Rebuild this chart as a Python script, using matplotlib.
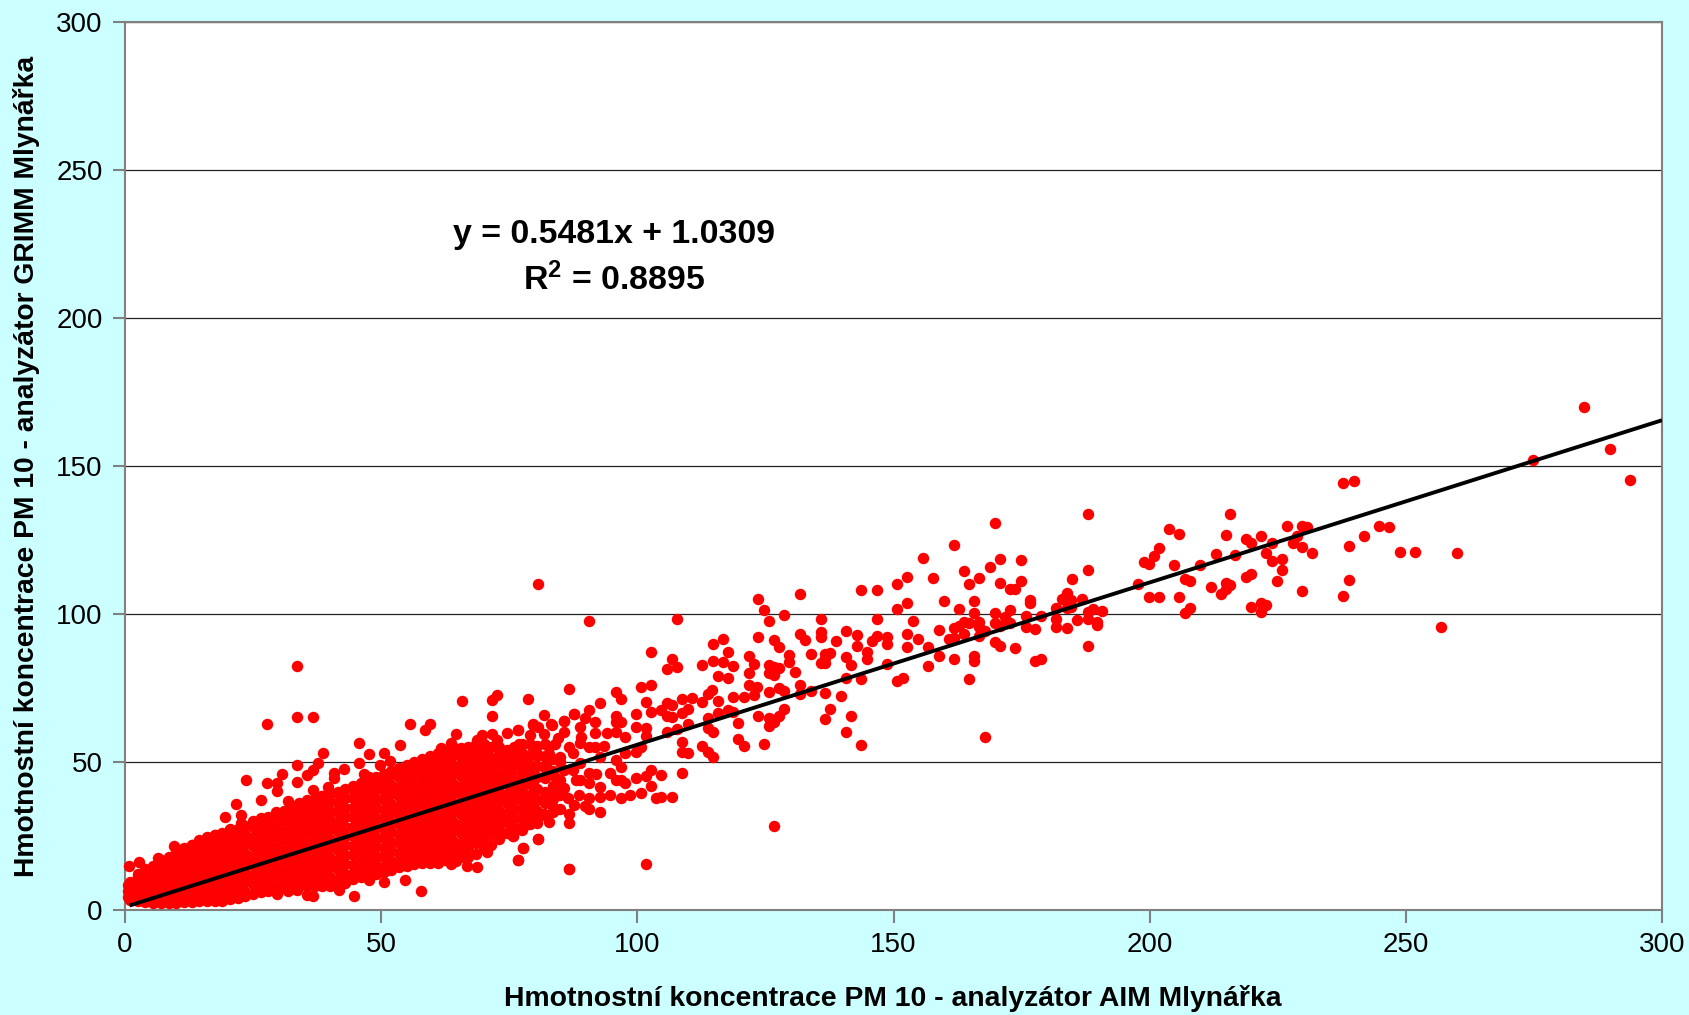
import matplotlib.pyplot as plt

plt.rcParams['font.family'] = ['Liberation Sans', 'DejaVu Sans']
plt.rcParams['mathtext.fontset'] = 'custom'
plt.rcParams['mathtext.bf'] = 'Liberation Sans:bold'
plt.rcParams['mathtext.rm'] = 'Liberation Sans'

x_label = 'Hmotnostní koncentrace PM 10 - analyzátor AIM Mlynářka'
y_label = 'Hmotnostní koncentrace PM 10 - analyzátor GRIMM Mlynářka'
ticks = [0, 50, 100, 150, 200, 250, 300]
fit_slope = 0.5481
fit_intercept = 1.0309
fit_x = [0.9, 300]

# right hand part of the cloud, read point by point
tail_points = [
    (284.8,169.9),(289.9,155.9),(293.8,145.4),(274.8,151.9),(237.8,144.1),(239.9,144.8),(187.9,133.7),(215.7,133.9),
    (169.8,130.7),(203.7,128.7),(205.8,126.9),(161.8,123.2),(155.7,118.8),(170.8,118.5),(174.8,118.1),(168.8,115.8),
    (187.9,115),(201.8,122.3),(200.9,119.6),(198.9,117.7),(199.8,116.8),(204.8,116.4),(209.8,116.4),(212.9,120.3),
    (216.7,119.9),(214.9,126.7),(218.9,125.4),(219.8,123.9),(221.8,126.3),(223.8,124),(222.8,120.6),(223.8,117.9),
    (225.8,118.5),(225.8,114.9),(226.8,129.6),(229.8,129.6),(230.8,129.3),(228.7,126.3),(227.9,123.9),(229.8,122.6),
    (231.7,120.7),(238.9,122.9),(241.8,126.3),(244.8,129.6),(246.8,129.4),(248.8,121.1),(251.8,120.8),(259.9,120.6),
    (256.8,95.7),(238.9,111.5),(237.8,106.2),(229.8,107.8),(224.9,111.2),(219.8,113.5),(218.9,112.6),(215.7,109.8),
    (214.9,110.4),(214.9,108.3),(213.9,106.9),(211.9,109.1),(206.8,111.8),(207.8,111.2),(197.7,110),(199.8,105.9),
    (201.8,105.6),(205.8,105.9),(207.8,102),(206.8,100.4),(219.8,102.4),(221.8,103.7),(222.8,102.9),(221.8,100.7),
    (184.8,111.7),(174.8,111.2),(170.8,110.4),(166.7,112.1),(163.7,114.6),(164.8,110),(157.8,112.1),(152.7,112.4),
    (172.7,108.4),(173.7,108.4),(159.8,104.5),(165.8,104.5),(162.8,101.6),(165.8,100.5),(152.7,103.6),(176.7,104.7),
    (176.7,103.6),(182.8,105.2),(183.8,107),(184.7,104.7),(186.8,105.2),(181.8,101.9),(183.8,101.9),(184.7,102.5),
    (187.9,100.8),(188.9,101.6),(190.7,101.1),(172.7,101.4),(169.8,100.5),(171.8,99.1),(175.9,99.3),(178.7,99.3),
    (153.8,97.8),(181.8,98.2),(187.9,98.2),(189.7,97.2),(189.7,96.3),(185.8,98),(181.8,95.7),(183.8,95.4),
    (175.9,95.7),(177.7,94.8),(172.7,96.9),(169.8,96.9),(170.8,96),(166.7,97.4),(166.7,95.7),(167.8,94.4),
    (163.7,97.4),(164.8,96.9),(162.8,96),(161.8,95.2),(163.7,93.3),(158.8,94.6),(152.7,93.3),(154.8,91.7),
    (160.8,91.7),(161.8,92),(166.7,92.6),(169.8,90.4),(170.8,89.3),(173.8,88.4),(187.9,89.3),(152.7,88.7),
    (156.8,88.7),(158.8,85.8),(161.8,84.7),(165.8,85.8),(165.8,84.2),(156.8,82.5),(177.7,84.2),(178.7,84.9),
    (164.8,78),(151.8,78.5),(167.8,58.6),(150.7,110),(150.7,101.8),(150.7,77.2),
]

# middle part, x from about 75 to 150
mid_points = [
    (80.7,110),(90.6,97.5),(107.8,98.3),(102.7,87.3),(86.7,74.6),(78.7,71.2),(106.7,84.9),(105.7,81.4),(107.8,82),
    (123.6,105),(124.7,101.2),(125.7,97.5),(128.7,99.5),(131.8,106.6),(135.8,98.3),(135.8,94),(135.8,92.3),
    (131.8,93.2),(132.7,91.2),(140.7,94.2),(142.8,92.8),(142.8,89.3),(138.7,90.9),(143.7,108),(146.8,108.2),
    (146.8,98.3),(146.8,92.5),(145.8,90.9),(148.8,92.3),(148.8,89.7),(144.8,87.3),(144.8,84.9),(140.7,85.6),
    (141.7,82.8),(148.8,83.2),(140.7,78.4),(143.7,77.9),(136.6,73.2),(139.7,72.4),(137.7,68),(141.7,65.6),
    (136.6,64.5),(140.7,60.3),(143.7,55.7),(123.6,92.2),(126.7,91.2),(127.7,88.7),(129.7,86.1),(129.7,83.7),
    (133.8,86.5),(136.6,86.5),(137.7,86.7),(136.6,85),(135.8,83.4),(136.6,83.4),(130.7,80.5),(125.7,82.8),
    (126.7,82.2),(127.7,81.6),(125.7,79.9),(126.7,79.4),(121.8,85.7),(122.8,83.1),(121.8,80.2),(114.7,89.8),
    (116.7,91.6),(117.7,87.3),(114.7,84.1),(116.7,83.7),(118.7,82.5),(112.6,82.8),(115.7,79),(117.7,78.5),
    (121.7,75.9),(123.3,75.4),(122.8,72.6),(125.7,73.7),(127.7,75),(128.7,74),(131.8,76),(131.8,73),(133.8,74.1),
    (118.7,72.1),(120.8,72.1),(114.6,74.3),(113.7,72.9),(115.7,70.6),(112.6,70.3),(110.6,71.5),(108.7,71.3),
    (106.7,69.2),(105.7,70),(101.6,70.3),(95.8,73.7),(96.8,71.2),(100.7,75.3),(102.7,76.1),(92.7,70),(90.6,67.6),
    (87.6,66.2),(81.7,65.9),(79.7,63),(83.2,62.7),(85.6,63.8),(76.7,60.8),(74.6,59.7),(80.7,61.9),(81.7,59.4),
    (85.6,60.2),(84.6,58.2),(88.8,61.9),(89.8,64.7),(91.7,63.6),(91.7,59.7),(95.8,65.6),(95.8,63.6),(96.8,63.4),
    (94,59.9),(95.8,60.2),(97.6,58.3),(99.7,66.2),(99.7,61.9),(101.6,61.4),(101.6,58.8),(102.7,66.8),(104.7,67.6),
    (105.7,65.6),(108.7,66.4),(109.8,67.9),(106.7,65.3),(109.8,63),(107.8,61.1),(105.7,60.2),(113.7,64.7),
    (113.7,61.6),(114.7,60.1),(115.7,66.4),(117.7,67.6),(118.7,66.8),(119.7,63.3),(119.7,57.8),(120.8,55.4),
    (124.7,56.1),(123.6,65.6),(125.7,64.7),(125.7,62.1),(127.7,65.6),(128.7,68),(126.7,63.6),(108.7,56.9),
    (108.7,53.3),(109.8,53.1),(112.6,55.5),(113.7,53.5),(114.7,51.8),(108.7,46.4),(104.7,45.7),(102.7,47.3),
    (101.6,45.3),(99.7,44.6),(102.7,42),(100.7,39.4),(106.7,38.2),(104.7,38.2),(103.7,38),(98.6,38.8),(96.8,37.7),
    (94.7,46.4),(96.8,43.9),(95.8,43.9),(97.6,42.8),(96.8,48.4),(95.8,50.7),(97.6,52.9),(99.7,53.5),(100.7,55.2),
    (92.7,51.8),(91.7,55.2),(90.6,55.2),(88.8,56.3),(86.7,55.2),(79.7,55.2),(82.8,55.2),(82.8,52.7),(80.7,52.4),
    (84.9,51.8),(87.5,52.9),(88.8,49.5),(90.6,46.4),(88.8,43.9),(90.6,42.8),(92.7,41.4),(94.7,38.8),(92.7,38.3),
    (90.6,37.7),(88.7,38.8),(87.6,35.5),(89.7,35.1),(90.6,34),(92.7,33.2),(86.7,32.6),(86.7,29.3),(82.8,29.8),
    (80.7,23.9),(75.7,25),(77.7,20.8),(76.7,16.9),(86.7,13.8),(101.6,15.6),(126.7,28.5),(83.6,40.5),(85.6,41.1),
    (81.7,37.7),(79.7,37.7),(77.8,34.9),(79.7,33.8),(81.7,32.6),(83.6,34.9),(85.6,47.3),(83,46.2),(79.7,42.8),
    (77.1,43.9),(74.5,48.4),(76.5,51.8),(78.4,49.5),(87.5,47.3),(75.5,40.5),(77.1,39.4),(74.5,36),(75.8,31.5),
    (77.7,28.1),(80.4,29.3),(79.7,62.5),(83.3,62.5),(85.6,63.9),(87.7,66.2),(84.2,44.5),(86.4,37.8),(82.2,49.2),
    (77,56),(79,59),(84,56),(88,44),(92,46),(93.5,55.5),(89,58.5),
]

# points sticking out of the dense band, upper and lower edge
edge_points = [
    (33.6,82.5),(33.6,65.3),(36.6,65.3),(27.7,62.7),(65.7,70.6),(71.6,70.9),(72.6,72.8),(71.6,65.6),(55.6,62.7),
    (58.6,60.8),(59.5,62.7),(45.6,56.5),(47.6,52.7),(50.6,53.1),(53.7,55.6),(64.6,59.4),(68.7,57.6),(69.6,59.1),
    (71.6,59.4),(72.6,57.6),(76.7,60.8),(63.6,56.3),(61.6,54.6),(38.7,53),(37.6,49.5),(36.6,47.3),(35.6,45.6),
    (33.6,49),(30.7,45.8),(23.6,43.9),(27.7,42.8),(29.6,42.8),(29.6,40.3),(33.6,43.1),(40.7,46.4),(40.7,44.5),
    (42.7,47.5),(39.7,41.6),(36.6,40.5),(45.6,49.5),(49.7,49),(51.7,50.4),(46.7,45.9),(47.6,44.8),(26.6,37.1),
    (21.6,35.8),(31.8,36.9),(19.5,31.4),(22.6,32.1),(22.6,29.3),(20.5,27.3),(9.6,21.7),(17.6,25.3),(0.7,15),
    (2.7,16.3),(6.5,17.4),(44.7,4.8),(57.7,6.3),(54.7,10.1),(50.6,9.4),(47.6,10.1),(41.7,6.6),(42.7,9),(36.6,4.8),
    (35.6,5.2),(33.6,6.6),(31.8,6.4),(29.6,5.5),(86.7,14),(68.7,14.5),(66.7,15),(63.6,15.4),(64.6,16.6),(76.7,16.9),
    (77.6,20.9),(80.7,23.9),(75.7,25.1),(70.7,19.7),(61.5,19.7),
]

# dense band, too many overlapping dots to tell apart, read as columns
band_x = [0.5, 1, 2.5, 4, 5.5, 7, 8.5, 10, 11.5, 13, 14.5, 16, 17.5, 19, 20.5, 22, 23.5, 25, 26.5, 28, 29.5, 31,
          32.5, 34, 35.5, 37, 38.5, 40, 41.5, 43, 44.5, 46, 47.5, 49, 50.5, 52, 53.5, 55, 56.5, 58, 59.5, 61,
          62.5, 64, 65.5, 67, 68.5, 70, 71.5, 73, 74.5, 76, 77.5, 79, 80.5, 82, 83.5, 85]
band_y = [
    [4.5, 6.5, 8.5],
    [3.5, 6.5, 9.5],
    [3, 5, 8.2, 11.4, 12],
    [2.6, 5.8, 9, 12.2, 14],
    [2.5, 4.2, 7.4, 10.6, 13.8, 15],
    [2.5, 5.7, 8.9, 12.1, 15.3, 17],
    [2.2, 4, 7.2, 10.4, 13.6, 16.8, 18],
    [2.4, 5.6, 8.8, 12, 15.2, 18.4, 19.5],
    [2.6, 4.2, 7.4, 10.6, 13.8, 17, 20.2, 21],
    [2.6, 5.8, 9, 12.2, 15.4, 18.6, 21.8, 22],
    [3, 4.6, 7.8, 11, 14.2, 17.4, 20.6, 23.5],
    [3, 6.2, 9.4, 12.6, 15.8, 19, 22.2, 24.5],
    [3, 4.6, 7.8, 11, 14.2, 17.4, 20.6, 23.8, 25.5],
    [3.2, 6.4, 9.6, 12.8, 16, 19.2, 22.4, 25.6, 26],
    [3.6, 5.2, 8.4, 11.6, 14.8, 18, 21.2, 24.4, 27],
    [4, 7.2, 10.4, 13.6, 16.8, 20, 23.2, 26.4, 27.5],
    [4.6, 6.2, 9.4, 12.6, 15.8, 19, 22.2, 25.4, 28.5],
    [5.5, 8.7, 11.9, 15.1, 18.3, 21.5, 24.7, 27.9, 30],
    [6, 7.6, 10.8, 14, 17.2, 20.4, 23.6, 26.8, 30, 31],
    [6.5, 9.7, 12.9, 16.1, 19.3, 22.5, 25.7, 28.9, 31.5],
    [7, 8.6, 11.8, 15, 18.2, 21.4, 24.6, 27.8, 31, 33],
    [7.5, 10.7, 13.9, 17.1, 20.3, 23.5, 26.7, 29.9, 33.1, 33.5],
    [7.5, 9.1, 12.3, 15.5, 18.7, 21.9, 25.1, 28.3, 31.5, 34.7, 35],
    [8, 11.2, 14.4, 17.6, 20.8, 24, 27.2, 30.4, 33.6, 36],
    [8, 9.6, 12.8, 16, 19.2, 22.4, 25.6, 28.8, 32, 35.2, 37],
    [8, 11.2, 14.4, 17.6, 20.8, 24, 27.2, 30.4, 33.6, 36.8, 37.5],
    [8, 9.6, 12.8, 16, 19.2, 22.4, 25.6, 28.8, 32, 35.2, 38.4, 38.5],
    [8, 11.2, 14.4, 17.6, 20.8, 24, 27.2, 30.4, 33.6, 36.8, 39.5],
    [9, 10.6, 13.8, 17, 20.2, 23.4, 26.6, 29.8, 33, 36.2, 39.4, 40],
    [9, 12.2, 15.4, 18.6, 21.8, 25, 28.2, 31.4, 34.6, 37.8, 41],
    [10.5, 12.1, 15.3, 18.5, 21.7, 24.9, 28.1, 31.3, 34.5, 37.7, 40.9, 42],
    [11, 14.2, 17.4, 20.6, 23.8, 27, 30.2, 33.4, 36.6, 39.8, 43],
    [11.5, 13.1, 16.3, 19.5, 22.7, 25.9, 29.1, 32.3, 35.5, 38.7, 41.9, 44],
    [12, 15.2, 18.4, 21.6, 24.8, 28, 31.2, 34.4, 37.6, 40.8, 44, 45],
    [13, 14.6, 17.8, 21, 24.2, 27.4, 30.6, 33.8, 37, 40.2, 43.4, 46],
    [13.5, 16.7, 19.9, 23.1, 26.3, 29.5, 32.7, 35.9, 39.1, 42.3, 45.5, 47],
    [14.5, 16.1, 19.3, 22.5, 25.7, 28.9, 32.1, 35.3, 38.5, 41.7, 44.9, 48],
    [15, 18.2, 21.4, 24.6, 27.8, 31, 34.2, 37.4, 40.6, 43.8, 47, 49],
    [15.5, 17.1, 20.3, 23.5, 26.7, 29.9, 33.1, 36.3, 39.5, 42.7, 45.9, 49.1, 50],
    [16, 19.2, 22.4, 25.6, 28.8, 32, 35.2, 38.4, 41.6, 44.8, 48, 51],
    [16, 17.6, 20.8, 24, 27.2, 30.4, 33.6, 36.8, 40, 43.2, 46.4, 49.6, 52],
    [16, 19.2, 22.4, 25.6, 28.8, 32, 35.2, 38.4, 41.6, 44.8, 48, 51.2, 53],
    [17, 18.6, 21.8, 25, 28.2, 31.4, 34.6, 37.8, 41, 44.2, 47.4, 50.6, 53.8],
    [17, 20.2, 23.4, 26.6, 29.8, 33, 36.2, 39.4, 42.6, 45.8, 49, 52.2, 55],
    [18, 19.6, 22.8, 26, 29.2, 32.4, 35.6, 38.8, 42, 45.2, 48.4, 51.6, 54.8],
    [18, 21.2, 24.4, 27.6, 30.8, 34, 37.2, 40.4, 43.6, 46.8, 50, 53.2, 55],
    [19, 22.8, 26, 29.2, 32.4, 35.6, 38.8, 42, 45.2, 48.4, 51.6, 54.8, 56],
    [21, 24.2, 27.4, 30.6, 33.8, 37, 40.2, 43.4, 46.6, 49.8, 53, 56],
    [22, 25.8, 29, 32.2, 35.4, 38.6, 41.8, 45, 48.2, 51.4, 55],
    [24, 27.2, 30.4, 33.6, 36.8, 40, 43.2, 46.4, 49.6, 52.8, 55],
    [26, 29.6, 32.8, 36, 39.2, 42.4, 45.6, 48.8, 52, 54],
    [28, 31.2, 34.4, 37.6, 40.8, 44, 47.2, 50.4, 53.6, 55],
    [27, 30.6, 33.8, 37, 40.2, 43.4, 46.6, 49.8, 53, 56],
    [29, 32.5, 36, 39, 42.5, 46, 49, 52.5, 56],
    [30, 33.5, 37, 41, 45, 48.5, 52, 55.5],
    [32, 36, 40, 44.5, 48, 52, 56],
    [33, 37.5, 42, 47, 51],
    [34, 39, 44, 50],
]

all_points = tail_points + mid_points + edge_points
point_x = [p[0] for p in all_points]
point_y = [p[1] for p in all_points]
for xv, ys in zip(band_x, band_y):
    point_x += [xv] * len(ys)
    point_y += ys

fig = plt.figure(figsize=(16.9, 10.15), dpi=100, facecolor='#CCFFFF')
ax = fig.add_axes([125 / 1690, 1 - 910 / 1015, (1662 - 125) / 1690, (910 - 22) / 1015])
ax.set_facecolor('white')

ax.scatter(point_x, point_y, s=68, color='#FF0000', linewidths=0, zorder=3, clip_on=False)
fit_y = [fit_slope * v + fit_intercept for v in fit_x]
ax.plot(fit_x, fit_y, color='black', lw=2.8, zorder=4, solid_capstyle='butt')

ax.set_xlim(0, 300)
ax.set_ylim(0, 300)
ax.set_xticks(ticks)
ax.set_yticks(ticks)
ax.yaxis.grid(True, color='#222222', lw=0.9, zorder=1)
ax.set_axisbelow(True)
ax.tick_params(length=9, width=1.5, color='#808080', labelsize=20, pad=7, labelcolor='black')
for side in ax.spines.values():
    side.set_color('#808080')
    side.set_linewidth(1.5)

fig.text(893 / 1690, 1 - 999 / 1015, x_label, ha='center', va='center', fontsize=20.4, fontweight='bold')
fig.text(27 / 1690, 1 - 466 / 1015, y_label, ha='center', va='center', rotation=90, fontsize=20.3, fontweight='bold')
fig.text(614 / 1690, 1 - 234 / 1015, 'y = 0.5481x + 1.0309', ha='center', va='center', fontsize=24.4, fontweight='bold')
fig.text(614 / 1690, 1 - 280 / 1015, r'R$\mathbf{^2}$ = 0.8895', ha='center', va='center', fontsize=24.4, fontweight='bold')

fig.savefig('out.png', dpi=100, facecolor=fig.get_facecolor())
